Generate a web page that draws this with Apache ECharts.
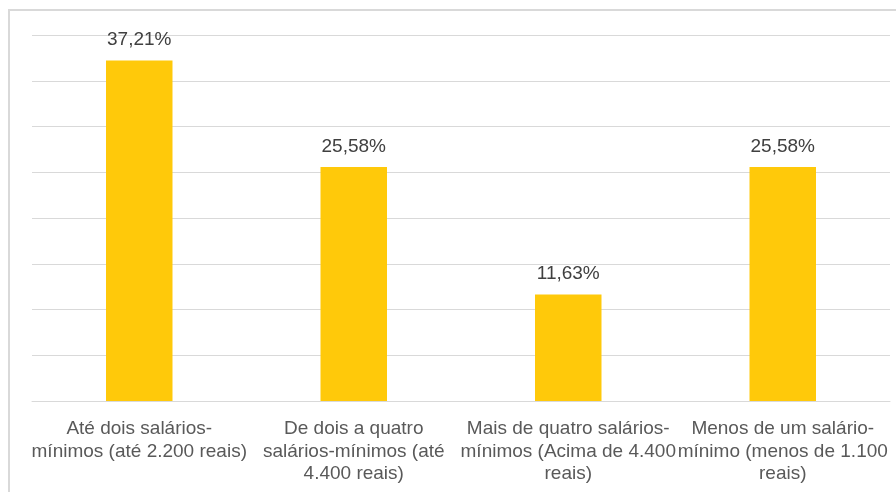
<!DOCTYPE html>
<html>
<head>
<meta charset="utf-8">
<script src="https://cdn.jsdelivr.net/npm/echarts@6/dist/echarts.min.js"></script>
<style>
html,body{margin:0;padding:0;background:#fff;}
#chart{width:896px;height:492px;}
</style>
</head>
<body>
<div id="chart"></div>
<script>
const categories = [
  'Até dois salários-\nmínimos (até 2.200 reais)',
  'De dois a quatro\nsalários-mínimos (até\n4.400 reais)',
  'Mais de quatro salários-\nmínimos (Acima de 4.400\nreais)',
  'Menos de um salário-\nmínimo (menos de 1.100\nreais)'
];
const values = [37.21, 25.58, 11.63, 25.58];
const yMin = 0, yMax = 40, yStep = 5;

const chart = echarts.init(document.getElementById('chart'), null, {renderer: 'canvas'});
const FONT = "'Liberation Sans', Arial, sans-serif";
chart.setOption({
  animation: false,
  backgroundColor: '#ffffff',
  graphic: [{
    type: 'rect',
    shape: {x: 9, y: 10, width: 900, height: 500},
    style: {fill: 'none', stroke: '#d9d9d9', lineWidth: 2},
    silent: true,
    z: -10
  }],
  grid: {left: 32, right: 6, top: 35, bottom: 91, containLabel: false},
  xAxis: {
    type: 'category',
    data: categories,
    axisLine: {show: true, lineStyle: {color: '#d9d9d9', width: 1}},
    axisTick: {show: false},
    axisLabel: {
      interval: 0,
      margin: 17,
      color: '#595959',
      fontFamily: FONT,
      fontSize: 19,
      lineHeight: 22.5,
      align: 'center'
    }
  },
  yAxis: {
    type: 'value',
    min: yMin, max: yMax, interval: yStep,
    axisLine: {show: false},
    axisTick: {show: false},
    axisLabel: {show: false},
    splitLine: {lineStyle: {color: '#d9d9d9', width: 1}}
  },
  series: [{
    type: 'bar',
    data: values,
    barWidth: '31%',
    itemStyle: {color: '#FFC90A'},
    label: {
      show: true,
      position: 'top',
      distance: 11,
      color: '#404040',
      fontFamily: FONT,
      fontSize: 19,
      formatter: p => p.value.toFixed(2).replace('.', ',') + '%'
    }
  }]
});
</script>
</body>
</html>
